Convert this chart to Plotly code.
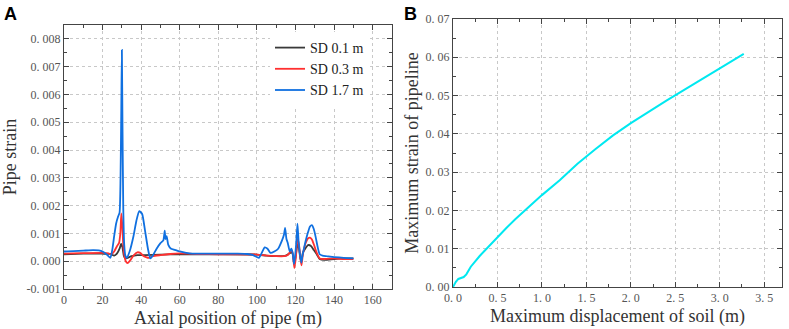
import plotly.graph_objects as go

# ---------- Panel A data (strain values in units of 1e-3) ----------
sd01_x = [0, 10, 20, 24, 26, 27.5, 28.8, 29.6, 30.3, 31, 31.8, 33, 35, 38, 42, 50, 60, 80, 100, 105,
          110, 115, 117.3, 118.3, 119.4, 120.2, 121, 121.8, 122.5, 123.1, 123.8, 125, 126.5, 128, 129.5,
          131, 132.5, 135, 140, 145, 150]
sd01_e3 = [0.25, 0.27, 0.27, 0.26, 0.2, 0.28, 0.45, 0.62, 0.5, 0.2, 0.1, 0.12, 0.18, 0.22, 0.22, 0.24,
           0.25, 0.25, 0.24, 0.2, 0.18, 0.2, 0.3, 0.3, -0.1, 0.25, 0.6, 0.45, 0.1, 0.0, 0.3, 0.45, 0.58,
           0.55, 0.4, 0.25, 0.08, 0.05, 0.08, 0.1, 0.1]

sd03_x = [0, 10, 20, 23, 24.5, 26, 27.5, 28.5, 29.2, 29.7, 30.2, 30.7, 31.3, 32, 33, 34.5, 36, 38, 39.5,
          41, 42.5, 44, 46, 50, 55, 60, 70, 80, 90, 100, 105, 110, 114, 116, 117.3, 118.3, 119.4, 120.2,
          121, 121.8, 122.5, 123.1, 123.8, 125, 126.5, 127.5, 128.5, 129.5, 131, 132.5, 135, 140, 145, 150]
sd03_e3 = [0.27, 0.29, 0.30, 0.28, 0.25, 0.35, 0.55, 0.65, 1.0, 1.72, 1.3, 0.6, 0.2, 0.0, -0.07, 0.05,
           0.2, 0.32, 0.3, 0.2, 0.15, 0.12, 0.18, 0.22, 0.26, 0.28, 0.26, 0.25, 0.25, 0.24, 0.2, 0.18,
           0.18, 0.22, 0.35, 0.35, -0.25, 0.15, 0.8, 0.6, 0.1, -0.15, 0.25, 0.6, 0.82, 0.85, 0.78, 0.6,
           0.3, 0.1, 0.08, 0.1, 0.08, 0.08]

sd17_x = [0, 5, 10, 15, 18, 20, 22, 24, 25, 26, 27, 28, 28.8, 29.3, 29.7, 30.0, 30.3, 30.7, 31.2, 31.8,
          32.5, 34, 36, 37.5, 39, 40.5, 42, 43.5, 44.7, 46, 48, 50, 51.5, 52.2, 52.6, 53.2, 54, 55.5, 57,
          60, 65, 70, 80, 90, 95, 98, 100, 101, 102.5, 104, 105.5, 107, 109, 111, 113, 114, 114.6, 115.3,
          116, 117, 117.8, 118.5, 119.2, 119.8, 120.4, 121, 121.6, 122.3, 123, 123.6, 124.5, 125.5, 126.5,
          127.5, 128.5, 129.5, 130.5, 131.5, 132.5, 134, 136, 140, 145, 150]
sd17_e3 = [0.35, 0.36, 0.38, 0.40, 0.39, 0.35, 0.25, 0.12, 0.4, 0.9, 1.35, 1.6, 1.75, 3.0, 5.5, 7.6, 5.0,
           2.0, 0.6, 0.2, 0.12, 0.35, 0.9, 1.45, 1.8, 1.7, 1.1, 0.45, 0.1, 0.2, 0.45, 0.65, 0.75, 1.1,
           0.8, 0.9, 0.6, 0.45, 0.42, 0.35, 0.28, 0.27, 0.27, 0.27, 0.26, 0.22, 0.15, 0.12, 0.3, 0.5,
           0.45, 0.3, 0.35, 0.45, 0.75, 0.95, 1.2, 0.8, 0.65, 0.35, 0.45, 0.3, -0.1, 0.2, 0.7, 1.35, 0.7,
           0.25, -0.05, 0.2, 0.5, 0.8, 1.05, 1.25, 1.3, 1.15, 0.85, 0.5, 0.25, 0.2, 0.18, 0.15, 0.12, 0.1]

series_names = ["SD 0.1 m", "SD 0.3 m", "SD 1.7 m"]
series_colors = ["#3a3a3a", "#ff3030", "#1070e0"]

a_xticks = [0, 20, 40, 60, 80, 100, 120, 140, 160]
a_yticks = [-0.001, 0.0, 0.001, 0.002, 0.003, 0.004, 0.005, 0.006, 0.007, 0.008]
a_yticktext = ["-0. 001", "0. 000", "0. 001", "0. 002", "0. 003", "0. 004", "0. 005", "0. 006", "0. 007", "0. 008"]

# ---------- Panel B data ----------
soil_disp = [0, 0.03, 0.06, 0.09, 0.12, 0.15, 0.2, 0.3, 0.4, 0.5, 0.6, 0.7, 0.8, 0.9, 1.0, 1.2, 1.4, 1.6,
             1.8, 2.0, 2.2, 2.4, 2.6, 2.8, 3.0, 3.2, 3.27]
max_strain = [0, 0.0013, 0.0021, 0.0024, 0.0026, 0.0033, 0.0053, 0.0081, 0.0106, 0.0130, 0.0154, 0.0177,
              0.0198, 0.0220, 0.0240, 0.0279, 0.0322, 0.0360, 0.0396, 0.0428, 0.0458, 0.0487, 0.0515,
              0.0543, 0.0572, 0.0600, 0.0609]
b_xticks = [0, 0.5, 1.0, 1.5, 2.0, 2.5, 3.0, 3.5]
b_xticktext = ["0. 0", "0. 5", "1. 0", "1. 5", "2. 0", "2. 5", "3. 0", "3. 5"]
b_yticks = [0, 0.01, 0.02, 0.03, 0.04, 0.05, 0.06, 0.07]
b_yticktext = ["0. 00", "0. 01", "0. 02", "0. 03", "0. 04", "0. 05", "0. 06", "0. 07"]

W, H = 789, 329
SERIF = "Liberation Serif, DejaVu Serif, serif"
TITLE_FONT = dict(family=SERIF, size=18, color="#333")

fig = go.Figure()
for xs, ys, name, col in zip([sd01_x, sd03_x, sd17_x], [sd01_e3, sd03_e3, sd17_e3], series_names, series_colors):
    fig.add_trace(go.Scatter(x=xs, y=[v * 1e-3 for v in ys], mode="lines", name=name,
                             line=dict(color=col, width=1.8, shape="spline", smoothing=0.5),
                             xaxis="x", yaxis="y"))

fig.add_trace(go.Scatter(x=soil_disp, y=max_strain, mode="lines", showlegend=False,
                         line=dict(color="#00e8f0", width=2), xaxis="x2", yaxis="y2"))


def axis_common(minor_dtick):
    return dict(showline=True, linecolor="#444", linewidth=1, mirror="allticks",
                ticks="inside", ticklen=5, tickcolor="#444", tickwidth=1,
                showgrid=True, gridcolor="#c8c8c8", griddash="dot", gridwidth=1,
                zeroline=False, automargin=False,
                tickfont=dict(family=SERIF, size=12, color="#555"),
                minor=dict(ticks="inside", ticklen=3, tickcolor="#444", showgrid=False,
                           dtick=minor_dtick, tick0=0))


fig.update_layout(
    width=W, height=H, margin=dict(l=0, r=0, t=0, b=0),
    paper_bgcolor="white", plot_bgcolor="white",
    xaxis=dict(domain=[64 / W, 392 / W], range=[0, 170], tickvals=a_xticks,
               title=dict(text="Axial position of pipe (m)", font=TITLE_FONT, standoff=4),
               anchor="y", **axis_common(10)),
    yaxis=dict(domain=[1 - 289 / H, 1 - 25 / H], range=[-0.001, 0.0085], tickvals=a_yticks, ticktext=a_yticktext,
               title=dict(text="Pipe strain", font=TITLE_FONT, standoff=6),
               anchor="x", **axis_common(0.0005)),
    xaxis2=dict(domain=[453 / W, 782 / W], range=[0, 3.7], tickvals=b_xticks, ticktext=b_xticktext,
                title=dict(text="Maximum displacement of soil (m)", font=TITLE_FONT, standoff=4),
                anchor="y2", **axis_common(0.25)),
    yaxis2=dict(domain=[1 - 287 / H, 1 - 19 / H], range=[0, 0.07], tickvals=b_yticks, ticktext=b_yticktext,
                title=dict(text="Maximum strain of pipeline", font=TITLE_FONT, standoff=2),
                anchor="x2", **axis_common(0.005)),
    legend=dict(x=270 / W, y=1 - 32 / H, xanchor="left", yanchor="top", bgcolor="white",
                font=dict(family=SERIF, size=14, color="#222"), tracegroupgap=0, itemwidth=30),
    annotations=[
        dict(text="<b>A</b>", x=2 / W, y=1 - 2 / H, xref="paper", yref="paper", xanchor="left", yanchor="top",
             showarrow=False, font=dict(family="Liberation Sans, Arial, sans-serif", size=18, color="#000")),
        dict(text="<b>B</b>", x=402 / W, y=1 - 2 / H, xref="paper", yref="paper", xanchor="left", yanchor="top",
             showarrow=False, font=dict(family="Liberation Sans, Arial, sans-serif", size=18, color="#000")),
    ],
)

fig.write_html("out.html", config={"displayModeBar": False},
               post_script="document.body.style.margin='0px';document.body.style.overflow='hidden';")
